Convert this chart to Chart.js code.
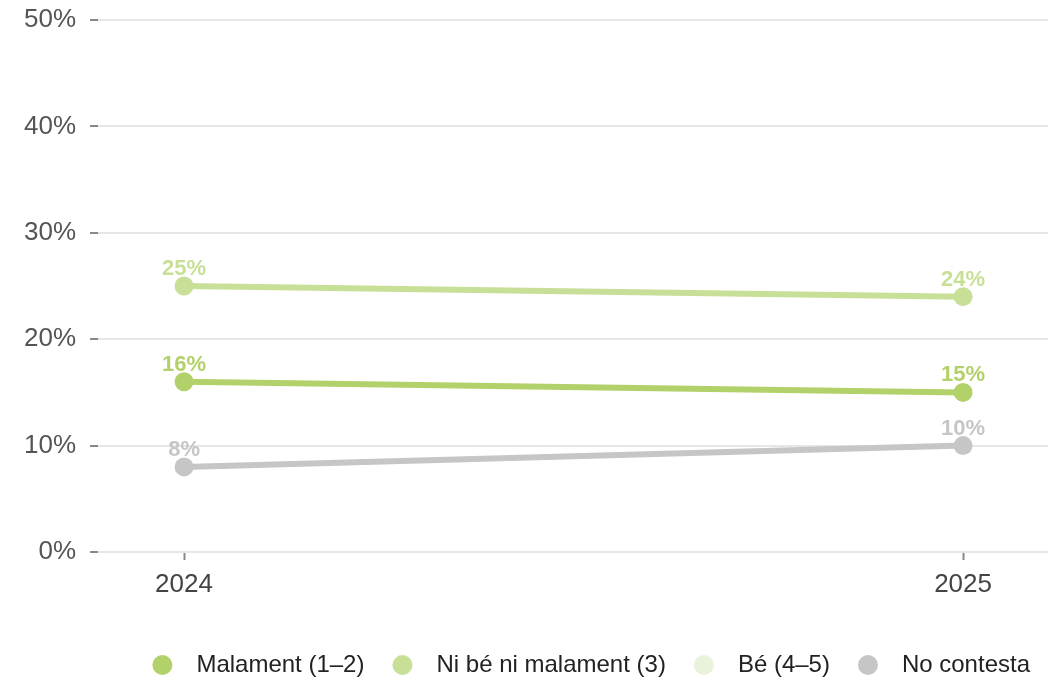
<!DOCTYPE html>
<html>
<head>
<meta charset="utf-8">
<script src="https://cdn.jsdelivr.net/npm/chart.js@4/dist/chart.umd.min.js"></script>
<style>
html,body{margin:0;padding:0;background:#fff;}
#wrap{width:1063px;height:678px;position:relative;}
</style>
</head>
<body>
<div id="wrap"><canvas id="c"></canvas></div>
<script>
const years = ['2024', '2025'];
const seriesNames = ['Malament (1–2)', 'Ni bé ni malament (3)', 'Bé (4–5)', 'No contesta'];
const malament = [16, 15];
const niBeNiMalament = [25, 24];
const be = [null, null];
const noContesta = [8, 10];
const colors = ['#b3d16a', '#c8df97', '#eaf2dc', '#c6c6c6'];
const yTicks = [0, 10, 20, 30, 40, 50];

const toPts = arr => arr.map((v, i) => ({x: i, y: v}));
const allSeries = [malament, niBeNiMalament, be, noContesta];
const FONT = '"Liberation Sans", Arial, sans-serif';

const labelPlugin = {
  id: 'valueLabels',
  afterDatasetsDraw(chart) {
    const ctx = chart.ctx;
    ctx.save();
    ctx.font = 'bold 22px ' + FONT;
    ctx.textAlign = 'center';
    ctx.textBaseline = 'middle';
    chart.data.datasets.forEach((ds, di) => {
      const meta = chart.getDatasetMeta(di);
      meta.data.forEach((pt, i) => {
        const v = ds.data[i].y;
        if (v === null || v === undefined) return;
        ctx.fillStyle = ds.borderColor;
        ctx.fillText(v + '%', pt.x, pt.y - 17);
      });
    });
    ctx.restore();
  }
};

const legendFitPlugin = {
  id: 'legendFit',
  beforeInit(chart) {
    const orig = chart.legend.fit;
    chart.legend.fit = function () {
      orig.call(this);
      this.height = 53;
    };
  }
};

new Chart(document.getElementById('c'), {
  type: 'line',
  data: {
    datasets: allSeries.map((arr, k) => ({
      label: seriesNames[k],
      data: toPts(arr),
      borderColor: colors[k],
      backgroundColor: colors[k],
      borderWidth: 6,
      pointRadius: 9.5,
      pointHoverRadius: 9.5,
      pointBorderWidth: 0,
      tension: 0
    }))
  },
  options: {
    responsive: true,
    maintainAspectRatio: false,
    animation: false,
    layout: {padding: {top: 0, right: 5, left: 10, bottom: 0}},
    plugins: {
      legend: {
        position: 'bottom',
        align: 'end',
        labels: {
          boxWidth: 20,
          boxHeight: 20,
          useBorderRadius: true,
          borderRadius: 10,
          padding: 28,
          color: '#222',
          font: {family: FONT, size: 24},
          generateLabels(chart) {
            const items = Chart.defaults.plugins.legend.labels.generateLabels(chart);
            items.forEach(it => { it.text = '\u2002' + it.text; it.lineWidth = 0; it.strokeStyle = 'rgba(0,0,0,0)'; });
            return items;
          }
        }
      },
      tooltip: {enabled: false}
    },
    scales: {
      x: {
        type: 'linear',
        min: -0.1104,
        max: 1.109,
        afterBuildTicks: s => { s.ticks = years.map((y, i) => ({value: i})); },
        afterFit: s => { s.height = 73; },
        ticks: {
          callback: v => years[v],
          color: '#444',
          font: {family: FONT, size: 26},
          padding: 9
        },
        grid: {drawOnChartArea: false, drawTicks: true, tickLength: 8, tickColor: '#888', tickWidth: 2},
        border: {display: false}
      },
      y: {
        min: 0,
        max: 50,
        afterBuildTicks: s => { s.ticks = yTicks.map(v => ({value: v})); },
        afterFit: s => { s.paddingTop = 20; },
        ticks: {
          callback: v => v + '%',
          color: '#555',
          font: {family: FONT, size: 26},
          padding: 14
        },
        grid: {color: '#e6e6e6', lineWidth: 2, tickLength: 8, tickColor: '#888', tickWidth: 2},
        border: {display: false}
      },
      yRight: {
        position: 'right',
        display: true,
        ticks: {display: false},
        grid: {display: false},
        border: {display: false},
        afterFit: s => { s.width = 10; }
      }
    }
  },
  plugins: [labelPlugin, legendFitPlugin]
});
</script>
</body>
</html>
